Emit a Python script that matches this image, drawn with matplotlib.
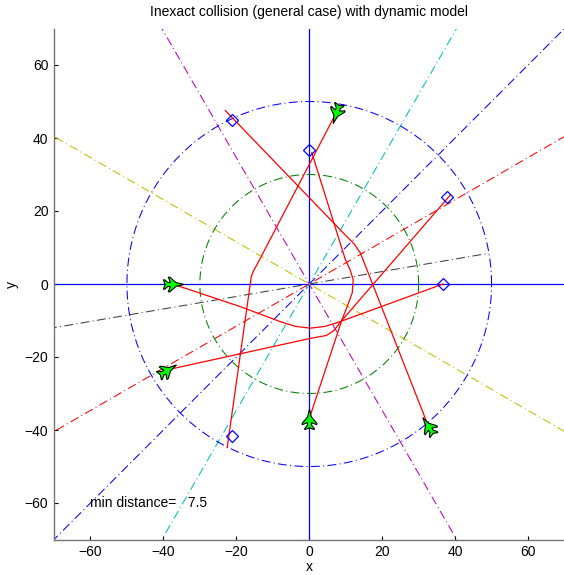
import numpy as np
import matplotlib
matplotlib.use("Agg")
import matplotlib.pyplot as plt
from matplotlib.path import Path
from matplotlib.markers import MarkerStyle
from matplotlib.transforms import Affine2D

plt.rcParams['font.family'] = ['Liberation Sans', 'DejaVu Sans']
plt.rcParams['font.size'] = 10

# reference lines through the origin (angle in degrees, colour)
ref_angles = [9.7, 30, 45, 60, 120, 150]
ref_colors = [(0.25, 0.25, 0.25), 'r', 'b', (0, 0.75, 0.75), (0.75, 0, 0.75), (0.75, 0.75, 0)]
ref_reach = [50, 100, 100, 100, 100, 100]

# protection circles
circle_radii = [30, 50]
circle_colors = [(0, 0.5, 0), 'b']

# destinations (diamonds)
dest_x = [-21.1, 0.0, 37.8, 36.7, -21.1]
dest_y = [45.0, 36.8, 23.9, 0.0, -41.6]

# aircraft positions and the destination each one heads for
plane_x = [32.6, 0.0, 7.4, -38.9, -37.5]
plane_y = [-38.8, -36.9, 46.9, -23.5, 0.0]
plane_dest = [0, 1, 4, 2, 3]

# trajectories
path_a_x = [-23.0, 10.1, 12.3, 13.97, 15.07, 32.6]
path_a_y = [47.5, 13.2, 11.0, 8.57, 5.84, -38.8]
path_b_x = [0.7, 9.9, 11.2, 12.05, 11.8, 10.4, 9.0, 0.0]
path_b_y = [36.0, 6.7, 3.9, 1.2, -2.4, -6.2, -9.7, -36.9]
path_c_x = [-22.5, -15.9, -15.3, -14.5, 7.4]
path_c_y = [-44.8, 2.0, 3.6, 5.0, 46.9]
path_d_x = [38.8, 8.5, 6.8, 4.7, 0.3, -38.9]
path_d_y = [24.5, -10.5, -12.7, -14.1, -14.9, -23.5]
path_e_x = [36.7, 16.7, 8.5, 4.4, 0.3, -3.8, -8.0, -18.9, -37.5]
path_e_y = [0.0, -7.3, -10.3, -11.6, -12.1, -11.6, -10.3, -6.2, 0.0]

min_dist = 7.5

dashdot = (8.5, 3.2, 1.0, 3.2)

fig = plt.figure(figsize=(5.64, 5.75), dpi=100)
ax = fig.add_axes([54 / 564, 35.5 / 575, 510.5 / 564, 511 / 575])

# axes cross
ax.plot([-70, 70], [0, 0], color='b', lw=0.9)
ax.plot([0, 0], [-70, 70], color='b', lw=0.9)

for ang, col, reach in zip(ref_angles, ref_colors, ref_reach):
    t = np.deg2rad(ang)
    ax.plot([-100 * np.cos(t), reach * np.cos(t)], [-100 * np.sin(t), reach * np.sin(t)],
            color=col, lw=0.75, dashes=dashdot)

theta = np.linspace(0, 2 * np.pi, 400)
for r, col in zip(circle_radii, circle_colors):
    ax.plot(r * np.cos(theta), r * np.sin(theta), color=col, lw=0.75, dashes=dashdot)

for px, py in [(path_a_x, path_a_y), (path_b_x, path_b_y), (path_c_x, path_c_y),
               (path_d_x, path_d_y), (path_e_x, path_e_y)]:
    ax.plot(px, py, color='r', lw=0.9)

ax.plot(dest_x, dest_y, 'D', color='b', mfc='none', ms=6, mew=0.9)

# aircraft silhouette (swept wings), nose pointing up
half = [(0, 1.0), (0.12, 0.5), (0.18, 0.25), (0.7, -0.35), (0.7, -0.5), (0.2, -0.3),
        (0.2, -0.55), (0.45, -0.85), (0.45, -0.97), (0, -0.8)]
verts = half + [(-x, y) for x, y in reversed(half[1:-1])] + [half[0]]
plane_path = Path(verts)

for x, y, k in zip(plane_x, plane_y, plane_dest):
    head = np.degrees(np.arctan2(dest_y[k] - y, dest_x[k] - x))
    m = MarkerStyle(plane_path, transform=Affine2D().rotate_deg(head - 90))
    ax.plot(x, y, marker=m, ms=15, mfc=(0, 1, 0), mec='k', mew=0.8, ls='none')

ax.text(-60, -60, 'min distance=   %.1f' % min_dist, ha='left', va='center')

ax.set_xlim(-70, 70)
ax.set_ylim(-70, 70)
ax.set_xticks(np.arange(-60, 61, 20))
ax.set_yticks(np.arange(-60, 61, 20))
ax.tick_params(direction='in', length=3, width=0.8, pad=4)
for s in ['top', 'right']:
    ax.spines[s].set_visible(False)
for s in ['left', 'bottom']:
    ax.spines[s].set_color('0.45')
    ax.spines[s].set_linewidth(1.0)
ax.set_xlabel('x', labelpad=1)
ax.set_ylabel('y', labelpad=4)
ax.set_title('Inexact collision (general case) with dynamic model', fontsize=10, pad=9)

fig.savefig('out.png', dpi=100)
